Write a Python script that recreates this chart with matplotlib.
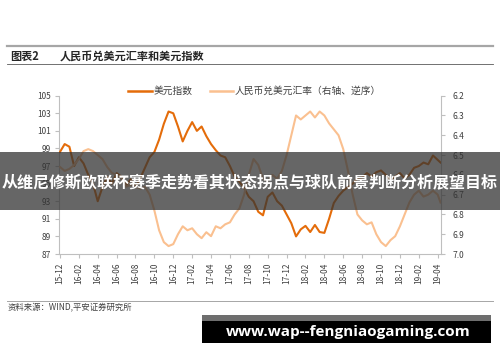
import matplotlib
matplotlib.use('Agg')
import matplotlib.pyplot as plt
from matplotlib.patches import Rectangle
from matplotlib.lines import Line2D

plt.rcParams['font.family'] = ['Noto Sans CJK SC', 'DejaVu Sans']

# ---------------- data ----------------
tick_labels = ['15-12', '16-02', '16-04', '16-06', '16-08', '16-10', '16-12',
               '17-02', '17-04', '17-06', '17-08', '17-10', '17-12',
               '18-02', '18-04', '18-06', '18-08', '18-10', '18-12',
               '19-02', '19-04']
# months since 2015-12 (half-month steps)
months = [i * 0.5 for i in range(81)] + [40.3]

dxy = [98.6, 99.5, 99.2, 97.0, 98.0, 97.3, 96.0, 95.0, 93.0, 94.6,
       95.8, 95.0, 96.2, 95.8, 94.8, 95.5, 94.6, 95.6, 96.8, 98.0,
       98.6, 100.0, 101.8, 103.2, 103.0, 101.5, 99.8, 101.0, 102.0, 101.0,
       101.5, 100.4, 99.5, 98.8, 98.2, 98.0, 97.0, 95.8, 95.2, 94.5,
       93.5, 93.0, 91.8, 91.4, 93.5, 94.0, 93.0, 92.5, 91.5, 90.5,
       89.0, 89.8, 90.2, 89.5, 90.3, 89.5, 89.4, 91.0, 92.8, 93.6,
       94.2, 94.6, 95.0, 95.6, 95.7, 96.2, 95.8, 96.3, 96.5, 96.0,
       95.4, 95.8, 96.2, 95.6, 96.0, 96.8, 97.0, 97.4, 97.2, 98.2,
       97.7, 97.4]

cny = [6.56, 6.58, 6.57, 6.55, 6.52, 6.48, 6.47, 6.48, 6.50, 6.52,
       6.56, 6.59, 6.60, 6.62, 6.66, 6.65, 6.66, 6.67, 6.66, 6.70,
       6.78, 6.88, 6.94, 6.96, 6.95, 6.90, 6.86, 6.88, 6.87, 6.90,
       6.92, 6.89, 6.91, 6.86, 6.87, 6.85, 6.84, 6.80, 6.77, 6.70,
       6.60, 6.52, 6.55, 6.62, 6.63, 6.60, 6.62, 6.58, 6.50, 6.40,
       6.30, 6.32, 6.30, 6.28, 6.31, 6.28, 6.30, 6.34, 6.37, 6.40,
       6.47, 6.58, 6.70, 6.80, 6.83, 6.85, 6.84, 6.90, 6.94, 6.96,
       6.93, 6.91, 6.86, 6.80, 6.74, 6.70, 6.68, 6.71, 6.70, 6.68,
       6.70, 6.74]

left_ticks = list(range(87, 106, 2))
right_ticks = [6.2, 6.3, 6.4, 6.5, 6.6, 6.7, 6.8, 6.9, 7.0]

title_num = '图表2'
title_text = '人民币兑美元汇率和美元指数'
legend_labels = ['美元指数', '人民币兑美元汇率（右轴、逆序）']
source_text = '资料来源：WIND,平安证券研究所'
banner_text = '从维尼修斯欧联杯赛季走势看其状态拐点与球队前景判断分析展望目标'
url_text = 'www.wap--fengniaogaming.com'

# ---------------- style ----------------
W, H = 500, 362
C_DXY = '#E46C0A'
C_CNY = '#FAC090'
AX_C = '#BFBFBF'
TXT = '#404040'


def fx(x):
    return x / W


def fy(y):
    return 1 - y / H


fig = plt.figure(figsize=(W / 100, H / 100), dpi=100)
fig.patch.set_facecolor('white')

ax = fig.add_axes([fx(59), fy(254), (441 - 59) / W, (254 - 95.7) / H])
ax.plot(months, dxy, color=C_DXY, lw=1.5, zorder=3)
ax.set_ylim(87, 105)
ax.set_xlim(-0.1, 40.35)
ax.set_yticks(left_ticks)
ax.set_yticklabels([str(t) for t in left_ticks])
ax.set_xticks(list(range(0, 41, 2)))
ax.set_xticklabels(tick_labels, rotation=90)

ax2 = ax.twinx()
ax2.plot(months, cny, color=C_CNY, lw=1.5, zorder=2)
ax2.set_ylim(7.0, 6.2)
ax2.set_yticks(right_ticks)
ax2.set_yticklabels([f'{t:.1f}' for t in right_ticks])

for a in (ax, ax2):
    a.set_facecolor('none')
    a.spines['top'].set_visible(False)
    for s in a.spines.values():
        s.set_color(AX_C)
        s.set_linewidth(0.8)
    a.tick_params(colors=AX_C, labelcolor=TXT, labelsize=6, length=3, width=0.8)
ax.spines['right'].set_visible(False)
ax2.spines['left'].set_visible(False)
ax2.spines['bottom'].set_visible(False)
ax.tick_params(axis='y', pad=3)
ax2.tick_params(axis='y', pad=5)
ax.tick_params(axis='x', pad=3)

# legend (manual)
fig.add_artist(Line2D([fx(128), fx(152)], [fy(90.7), fy(90.7)], color=C_DXY, lw=1.8))
fig.text(fx(154), fy(90.7), legend_labels[0], fontsize=7, color=TXT, va='center', ha='left')
fig.add_artist(Line2D([fx(210), fx(233)], [fy(90.7), fy(90.7)], color=C_CNY, lw=1.8))
fig.text(fx(235), fy(90.7), legend_labels[1], fontsize=7, color=TXT, va='center', ha='left')

# title block
fig.add_artist(Line2D([fx(7), fx(493)], [fy(46), fy(46)], color='#A6A6A6', lw=1.6))
fig.text(fx(10), fy(56), title_num, fontsize=8, fontweight='bold', color='#262626', va='center')
fig.text(fx(60), fy(56), title_text, fontsize=8, fontweight='bold', color='#262626', va='center')
fig.add_artist(Line2D([fx(7), fx(493)], [fy(64), fy(64)], color='#595959', lw=0.6))

# source
fig.add_artist(Line2D([fx(7), fx(493)], [fy(301), fy(301)], color='#A6A6A6', lw=0.7))
fig.text(fx(8), fy(308), source_text, fontsize=6, color=TXT, va='center', ha='left', style='italic')

# overlay banner
fig.add_artist(Rectangle((0, fy(210)), 1, (210 - 152) / H, transform=fig.transFigure,
                         facecolor='#333333', alpha=0.75, edgecolor='none', zorder=10))
fig.text(0.5, fy(182), banner_text, fontsize=11.5, fontweight='bold', color='white',
         ha='center', va='center', zorder=11)

# url box
fig.add_artist(Rectangle((fx(202), fy(321)), (491 - 202) / W, (321 - 315) / H,
                         transform=fig.transFigure, facecolor='#6E6E6E', edgecolor='none', zorder=10))
fig.add_artist(Rectangle((fx(202), fy(343)), (491 - 202) / W, (343 - 321) / H,
                         transform=fig.transFigure, facecolor='black', edgecolor='none', zorder=10))
fig.text(fx(348), fy(332), url_text, fontsize=11, fontweight='bold', color='white',
         family=['Open Sans', 'DejaVu Sans'], ha='center', va='center', zorder=11)

fig.savefig('out.png', dpi=100)
